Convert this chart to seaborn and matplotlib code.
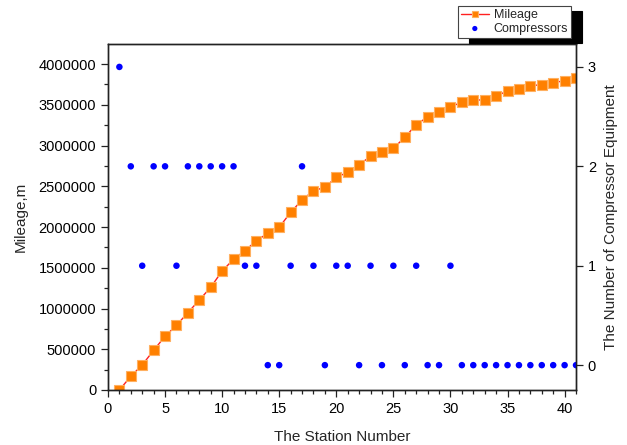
import matplotlib
matplotlib.use("Agg")
import matplotlib.pyplot as plt
import pandas as pd
import seaborn as sns
from matplotlib.ticker import MultipleLocator

# station numbers 1..41
stations = list(range(1, 42))

mileage = [
    0, 168000, 307000, 487000, 659000, 794000, 949000, 1104000, 1260000, 1460000,
    1604000, 1709000, 1832000, 1923000, 1996000, 2180000, 2331000, 2445000, 2487000, 2610000,
    2671000, 2765000, 2867000, 2924000, 2966000, 3100000, 3256000, 3350000, 3407000, 3476000,
    3530000, 3555000, 3562000, 3607000, 3669000, 3689000, 3734000, 3746000, 3771000, 3795000,
    3824000,
]

compressors = [
    3, 2, 1, 2, 2, 1, 2, 2, 2, 2,
    2, 1, 1, 0, 0, 1, 2, 1, 0, 1,
    1, 0, 1, 0, 1, 0, 1, 0, 0, 1,
    0, 0, 0, 0, 0, 0, 0, 0, 0, 0,
    0,
]

df = pd.DataFrame({"station": stations, "mileage": mileage, "compressors": compressors})

sns.set_style("ticks")
plt.rcParams["font.family"] = ["Liberation Sans", "DejaVu Sans"]
plt.rcParams["xtick.direction"] = "out"
plt.rcParams["ytick.direction"] = "out"

fig = plt.figure(figsize=(6.27, 4.45), dpi=100)
ax = fig.add_axes([0.1722, 0.1236, 0.7465, 0.7774])
ax2 = ax.twinx()

sns.lineplot(data=df, x="station", y="mileage", ax=ax, color="#ff2020", linewidth=1.0,
             marker="s", markersize=6.5, markerfacecolor="#ff8000",
             markeredgecolor="#ffb060", markeredgewidth=0.8, label="Mileage", legend=False)
sns.scatterplot(data=df, x="station", y="compressors", ax=ax2, color="#0000ff",
                s=22, edgecolor="none", label="Compressors", legend=False)

ax.set_xlim(0, 41)
ax.set_ylim(0, 4245000)
ax2.set_ylim(-0.25, 3.23)

ax.xaxis.set_major_locator(MultipleLocator(5))
ax.xaxis.set_minor_locator(MultipleLocator(1))
ax.yaxis.set_major_locator(MultipleLocator(500000))
ax.yaxis.set_minor_locator(MultipleLocator(250000))
ax.ticklabel_format(axis="y", style="plain", useOffset=False)
ax2.yaxis.set_major_locator(MultipleLocator(1))

for a in (ax, ax2):
    for sp in a.spines.values():
        sp.set_visible(True)
        sp.set_color("#222222")
        sp.set_linewidth(1.0)
    a.tick_params(which="major", length=5, width=0.9, colors="#222222", labelsize=10.5, labelcolor="black")
    a.tick_params(which="minor", length=3, width=0.9, colors="#222222")

ax.set_xlabel("The Station Number", fontsize=11, labelpad=10)
ax.set_ylabel("Mileage,m", fontsize=11, labelpad=8)
ax2.set_ylabel("The Number of Compressor Equipment", fontsize=11, labelpad=6)

h1, l1 = ax.get_legend_handles_labels()
h2, l2 = ax2.get_legend_handles_labels()
leg = fig.legend(h1 + h2, l1 + l2, loc="upper right", bbox_to_anchor=(0.911, 0.987),
                 fontsize=9, frameon=True, fancybox=False,
                 shadow={"color": "black", "alpha": 1.0, "ox": 8, "oy": -3.5},
                 borderpad=0.25, labelspacing=0.15, handlelength=2.2, handletextpad=0.4,
                 borderaxespad=0)
leg.get_frame().set_edgecolor("#444444")
leg.get_frame().set_linewidth(0.8)
leg.legend_handles[0].set_markersize(5)
leg.legend_handles[1].set_sizes([14])

fig.savefig("out.png", dpi=100)
